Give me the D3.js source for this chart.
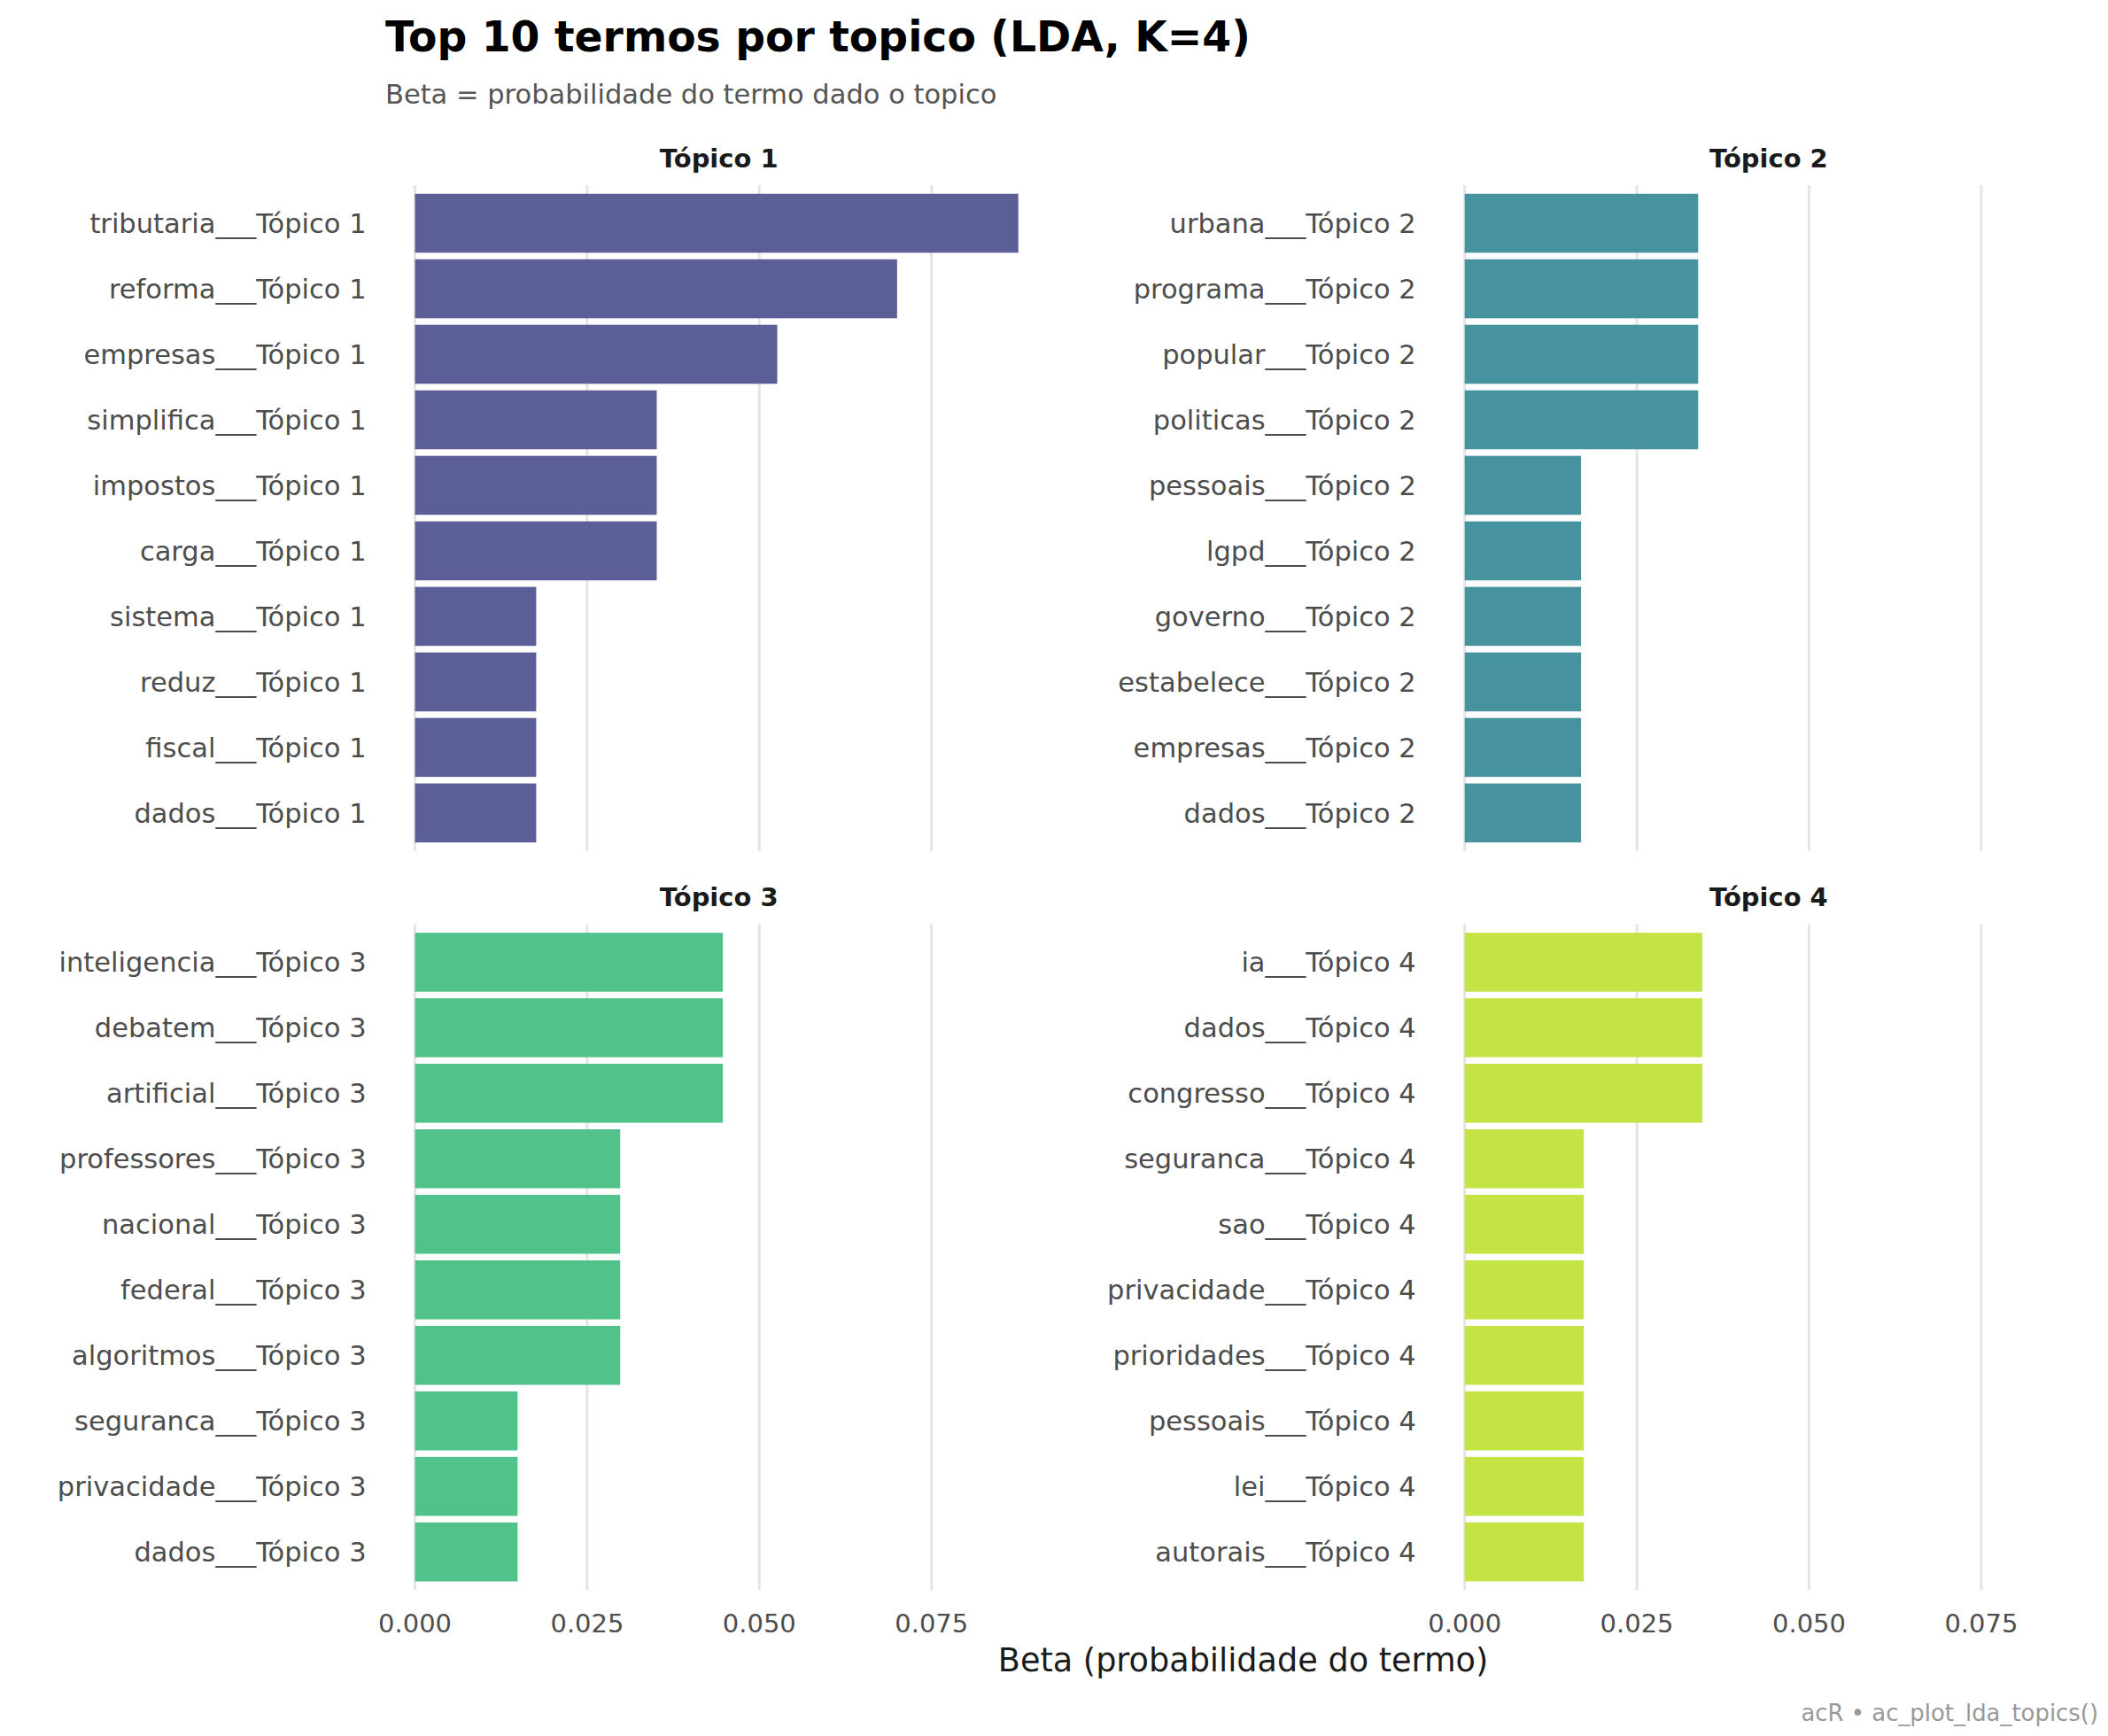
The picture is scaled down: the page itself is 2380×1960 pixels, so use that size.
<!DOCTYPE html>
<head>
<meta charset="utf-8">
<style>
body { margin:0; background:#fff; font-family:"DejaVu Sans", sans-serif; }
</style>
</head>
<body>
<script src="https://cdn.jsdelivr.net/npm/d3@7"></script>
<script>
// data (top to bottom inside each panel)
var topics = ["Tópico 1", "Tópico 2", "Tópico 3", "Tópico 4"];
var colors = ["#5b5e97", "#46929e", "#52c28b", "#c4e345"];
var terms1 = ["tributaria","reforma","empresas","simplifica","impostos","carga","sistema","reduz","fiscal","dados"];
var beta1  = [0.0876,0.0700,0.0526,0.0351,0.0351,0.0351,0.0176,0.0176,0.0176,0.0176];
var terms2 = ["urbana","programa","popular","politicas","pessoais","lgpd","governo","estabelece","empresas","dados"];
var beta2  = [0.0339,0.0339,0.0339,0.0339,0.0169,0.0169,0.0169,0.0169,0.0169,0.0169];
var terms3 = ["inteligencia","debatem","artificial","professores","nacional","federal","algoritmos","seguranca","privacidade","dados"];
var beta3  = [0.0447,0.0447,0.0447,0.0298,0.0298,0.0298,0.0298,0.0149,0.0149,0.0149];
var terms4 = ["ia","dados","congresso","seguranca","sao","privacidade","prioridades","pessoais","lei","autorais"];
var beta4  = [0.0345,0.0345,0.0345,0.0173,0.0173,0.0173,0.0173,0.0173,0.0173,0.0173];
var ticks = [0, 0.025, 0.05, 0.075];

var W = 1560, H = 1285;
var svg = d3.select("body").append("svg")
  .attr("width", 2380).attr("height", 1960)
  .attr("viewBox", "0 0 " + W + " " + H);

svg.append("text").attr("x", 285).attr("y", 38).text("Top 10 termos por topico (LDA, K=4)")
  .style("font-size", "31px").style("font-weight", "bold").attr("fill", "#000");
svg.append("text").attr("x", 285).attr("y", 77).text("Beta = probabilidade do termo dado o topico")
  .style("font-size", "20px").attr("fill", "#555");

var panels = [
  {terms: terms1, beta: beta1, x0: 307, y0: 137},
  {terms: terms2, beta: beta2, x0: 1084, y0: 137},
  {terms: terms3, beta: beta3, x0: 307, y0: 684},
  {terms: terms4, beta: beta4, x0: 1084, y0: 684}
];
var pw = 469, ph = 493;

panels.forEach(function(p, i) {
  var g = svg.append("g").attr("transform", "translate(" + p.x0 + "," + p.y0 + ")");
  var x = d3.scaleLinear().domain([0, 0.092]).range([0, pw]);
  var y = d3.scaleBand().domain(p.terms).range([4, ph - 4]).paddingInner(0.1).paddingOuter(0.05);

  g.selectAll(".grid").data(ticks).enter().append("line")
    .attr("x1", x).attr("x2", x).attr("y1", 0).attr("y2", ph)
    .attr("stroke", "#e5e5e5").attr("stroke-width", 2);

  g.selectAll("rect").data(p.terms).enter().append("rect")
    .attr("x", 0).attr("y", function(d) { return y(d); })
    .attr("width", function(d, j) { return x(p.beta[j]); })
    .attr("height", y.bandwidth())
    .attr("fill", colors[i]);

  g.selectAll(".lab").data(p.terms).enter().append("text")
    .attr("x", -36).attr("y", function(d) { return y(d) + y.bandwidth() / 2; })
    .attr("dy", "0.35em").attr("text-anchor", "end")
    .style("font-size", "20px").attr("fill", "#4d4d4d")
    .text(function(d) { return d + "___" + topics[i]; });

  svg.append("text").attr("x", p.x0 + 225).attr("y", p.y0 - 13)
    .attr("text-anchor", "middle").style("font-size", "19px").style("font-weight", "bold")
    .attr("fill", "#1a1a1a").text(topics[i]);

  if (i >= 2) {
    g.selectAll(".tick").data(ticks).enter().append("text")
      .attr("x", x).attr("y", ph + 31).attr("text-anchor", "middle")
      .style("font-size", "19px").attr("fill", "#4d4d4d")
      .text(function(d) { return d3.format(".3f")(d); });
  }
});

svg.append("text").attr("x", 920).attr("y", 1237).attr("text-anchor", "middle")
  .style("font-size", "24px").attr("fill", "#1a1a1a").text("Beta (probabilidade do termo)");
svg.append("text").attr("x", 1553).attr("y", 1274).attr("text-anchor", "end")
  .style("font-size", "17px").attr("fill", "#999").text("acR • ac_plot_lda_topics()");
</script>
</body>
